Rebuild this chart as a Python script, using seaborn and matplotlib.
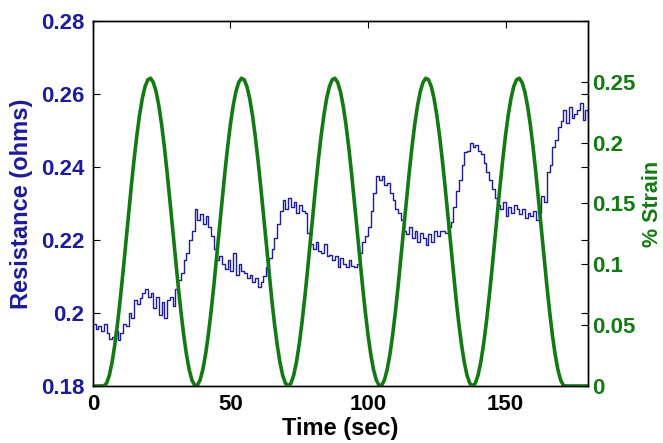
# resistance / strain vs time (dual axis)
import numpy as np
import pandas as pd
import matplotlib
matplotlib.use('Agg')
import matplotlib.pyplot as plt
import seaborn as sns

# resistance (ohms), one reading per second, t = 0..180
resistance = [
    0.197, 0.1955, 0.1965, 0.195, 0.197,
    0.1945, 0.193, 0.1935, 0.195, 0.1925, 0.1945,
    0.197, 0.1965, 0.2, 0.1985, 0.2035,
    0.2025, 0.204, 0.2055, 0.2065, 0.2045, 0.2055,
    0.2015, 0.2045, 0.1995, 0.203, 0.1985, 0.2035,
    0.2045, 0.202, 0.2065, 0.209,
    0.211, 0.2145, 0.2165, 0.22,
    0.2225, 0.2285, 0.2255, 0.227, 0.2245, 0.2265, 0.2235, 0.221,
    0.2175, 0.2145, 0.2155, 0.2135, 0.212, 0.2145, 0.2115,
    0.2165, 0.2105, 0.2135, 0.2115, 0.211, 0.2095, 0.2105,
    0.2085, 0.2095, 0.207, 0.2085, 0.21,
    0.2125, 0.215, 0.2175, 0.2205, 0.2245, 0.228,
    0.231, 0.2285, 0.2315, 0.229, 0.2305, 0.2275, 0.2295, 0.228, 0.2275, 0.222,
    0.219, 0.2175, 0.2195, 0.217, 0.2165, 0.219, 0.2155, 0.216,
    0.2145, 0.2155, 0.2125, 0.215, 0.2135, 0.2125, 0.2145, 0.213, 0.2125, 0.2135,
    0.2165, 0.2195, 0.221, 0.2235, 0.228, 0.233, 0.2375,
    0.2365, 0.2375, 0.235, 0.2355, 0.233, 0.231,
    0.2285, 0.2275, 0.2255, 0.2225,
    0.2215, 0.2235, 0.2205, 0.2225, 0.2195, 0.222, 0.2205, 0.2185, 0.2215, 0.2195, 0.2225, 0.221, 0.2225,
    0.2225, 0.222, 0.2235, 0.225, 0.229, 0.2335, 0.2365,
    0.2405, 0.244, 0.2445, 0.2465, 0.2455, 0.246, 0.2445,
    0.2435, 0.241, 0.2385, 0.2365, 0.234, 0.2315,
    0.2295, 0.2285, 0.2305, 0.2265, 0.229, 0.2275, 0.2295, 0.2285, 0.227, 0.2285, 0.226, 0.2275, 0.2265, 0.228, 0.2255, 0.2275,
    0.232, 0.2305, 0.2385, 0.2405, 0.2455, 0.2475, 0.251, 0.2525,
    0.2555, 0.252, 0.2565, 0.2535, 0.2545, 0.2555, 0.2575, 0.253, 0.2555, 0.2535,
]

# % strain, one reading per second, t = 0..180
strain = [
    0, 0, 0, 0,
    0, 0.0022, 0.0088, 0.0195, 0.0340, 0.0517, 0.0720, 0.0942, 0.1176, 0.1413, 0.1645, 0.1863, 0.2060, 0.2229, 0.2365, 0.2462, 0.2517,
    0.2529, 0.2495, 0.2419, 0.2302, 0.2149, 0.1965, 0.1756, 0.1530, 0.1295, 0.1058, 0.0829, 0.0616, 0.0424, 0.0263, 0.0137, 0.0050, 0.0006,
    0.0006, 0.0050, 0.0137, 0.0263, 0.0424, 0.0616, 0.0829, 0.1058, 0.1295, 0.1530, 0.1756, 0.1965, 0.2149, 0.2302, 0.2419, 0.2495, 0.2529,
    0.2517, 0.2462, 0.2365, 0.2229, 0.2060, 0.1863, 0.1645, 0.1413, 0.1176, 0.0942, 0.0720, 0.0517, 0.0340, 0.0195, 0.0088, 0.0022,
    0, 0.0022, 0.0088, 0.0195, 0.0340, 0.0517, 0.0720, 0.0942, 0.1176, 0.1413, 0.1645, 0.1863, 0.2060, 0.2229, 0.2365, 0.2462, 0.2517,
    0.2529, 0.2495, 0.2419, 0.2302, 0.2149, 0.1965, 0.1756, 0.1530, 0.1295, 0.1058, 0.0829, 0.0616, 0.0424, 0.0263, 0.0137, 0.0050, 0.0006,
    0.0006, 0.0050, 0.0137, 0.0263, 0.0424, 0.0616, 0.0829, 0.1058, 0.1295, 0.1530, 0.1756, 0.1965, 0.2149, 0.2302, 0.2419, 0.2495, 0.2529,
    0.2517, 0.2462, 0.2365, 0.2229, 0.2060, 0.1863, 0.1645, 0.1413, 0.1176, 0.0942, 0.0720, 0.0517, 0.0340, 0.0195, 0.0088, 0.0022,
    0, 0.0022, 0.0088, 0.0195, 0.0340, 0.0517, 0.0720, 0.0942, 0.1176, 0.1413, 0.1645, 0.1863, 0.2060, 0.2229, 0.2365, 0.2462, 0.2517,
    0.2529, 0.2495, 0.2419, 0.2302, 0.2149, 0.1965, 0.1756, 0.1530, 0.1295, 0.1058, 0.0829, 0.0616, 0.0424, 0.0263, 0.0137, 0.0050, 0.0006,
    0, 0, 0, 0, 0, 0, 0, 0, 0,
]

time_s = np.arange(len(resistance))
df = pd.DataFrame({'time': time_s, 'resistance': resistance, 'strain': strain})

blue = '#1c1c9c'
green = '#137a13'

sns.set_style('white')
plt.rcParams['font.family'] = ['Liberation Sans', 'DejaVu Sans']
plt.rcParams['font.weight'] = 'bold'
plt.rcParams['text.color'] = 'black'
plt.rcParams['axes.labelcolor'] = 'black'

fig = plt.figure(figsize=(6.63, 4.43), dpi=100)
ax = fig.add_axes([0.140, 0.1287, 0.747, 0.824])
ax2 = ax.twinx()

# 저항 (계단형)
sns.lineplot(x='time', y='resistance', data=df, ax=ax, color=blue,
             linewidth=1.0, drawstyle='steps-post')
# 변형률
sns.lineplot(x='time', y='strain', data=df, ax=ax2, color=green,
             linewidth=2.6)

ax.set_xlim(0, 180)
ax.set_ylim(0.18, 0.28)
ax2.set_ylim(0, 0.3)

ax.set_xticks([0, 50, 100, 150])
ax.set_xticklabels(['0', '50', '100', '150'])
ax.set_yticks([0.18, 0.2, 0.22, 0.24, 0.26, 0.28])
ax.set_yticklabels(['0.18', '0.2', '0.22', '0.24', '0.26', '0.28'])
ax2.set_yticks([0, 0.05, 0.1, 0.15, 0.2, 0.25])
ax2.set_yticklabels(['0', '0.05', '0.1', '0.15', '0.2', '0.25'])

ax.tick_params(axis='x', direction='in', top=True, length=5, labelsize=16, pad=6,
               colors='black', labelcolor='black')
ax.tick_params(axis='y', direction='in', right=True, length=5, labelsize=16, pad=6,
               colors='black', labelcolor=blue)
ax2.tick_params(axis='y', direction='in', length=5, labelsize=16, pad=3,
                colors='black', labelcolor=green)

ax.set_xlabel('Time (sec)', fontsize=17, fontweight='bold', color='black', labelpad=1)
ax.set_ylabel('Resistance (ohms)', fontsize=17, fontweight='bold', color=blue, labelpad=6)
ax2.set_ylabel('% Strain', fontsize=15.5, fontweight='bold', color=green)
ax2.yaxis.set_label_coords(1.108, 0.5)

for a in (ax, ax2):
    for s in a.spines.values():
        s.set_color('black')
        s.set_linewidth(1.0)
        s.set_visible(True)

fig.savefig('out.png', dpi=100)
